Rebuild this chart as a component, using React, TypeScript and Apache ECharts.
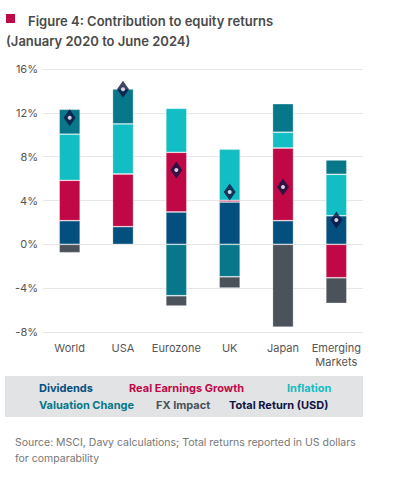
import React, { useEffect, useRef } from "react";
import * as echarts from "echarts";

const categories = ["World", "USA", "Eurozone", "UK", "Japan", "Emerging\nMarkets"];
const dividends = [2.16, 1.61, 2.95, 3.86, 2.16, 2.61];
const realEarningsGrowth = [3.68, 4.81, 5.45, 0.16, 6.63, -3.05];
const inflation = [4.21, 4.57, 4.02, 4.66, 1.44, 3.78];
const valuationChange = [2.28, 3.19, -4.69, -2.96, 2.61, 1.31];
const fxImpact = [-0.77, 0, -0.94, -1.03, -7.55, -2.34];
const totalReturn = [11.56, 14.15, 6.79, 4.78, 5.23, 2.22];

const COLORS = {
  div: "#03507f",
  reg: "#bf0845",
  inf: "#12bdc3",
  vc: "#08778a",
  fx: "#4b525a",
  tot: "#0f1442",
};

const FONT = "Inter, 'Open Sans', sans-serif";

export default function App() {
  const ref = useRef<HTMLDivElement>(null);
  useEffect(() => {
    document.body.style.margin = "0";
    if (!ref.current) return;
    const chart = echarts.init(ref.current, undefined, { renderer: "svg" });
    const barBase = {
      type: "bar" as const,
      stack: "total",
      barWidth: 21,
      itemStyle: { borderColor: "rgba(255,255,255,0.35)", borderWidth: 0.8 },
    };
    chart.setOption({
      animation: false,
      textStyle: { fontFamily: FONT },
      grid: { left: 43, right: 32, top: 69, bottom: 148 },
      xAxis: {
        type: "category",
        data: categories,
        axisLine: { show: false },
        axisTick: { show: false },
        axisLabel: { color: "#555", fontSize: 11, margin: 9, lineHeight: 14, fontFamily: FONT, interval: 0, hideOverlap: false },
      },
      yAxis: {
        type: "value",
        min: -8,
        max: 16,
        interval: 4,
        axisLine: { show: false },
        axisTick: { show: false },
        splitLine: { lineStyle: { color: "#e6e6e6", width: 1 } },
        axisLabel: { color: "#555", fontSize: 11, margin: 5, formatter: "{value}%", fontFamily: FONT },
      },
      series: [
        { ...barBase, name: "Dividends", data: dividends, itemStyle: { ...barBase.itemStyle, color: COLORS.div } },
        { ...barBase, name: "Real Earnings Growth", data: realEarningsGrowth, itemStyle: { ...barBase.itemStyle, color: COLORS.reg } },
        { ...barBase, name: "Inflation", data: inflation, itemStyle: { ...barBase.itemStyle, color: COLORS.inf } },
        { ...barBase, name: "Valuation Change", data: valuationChange, itemStyle: { ...barBase.itemStyle, color: COLORS.vc } },
        { ...barBase, name: "FX Impact", data: fxImpact, itemStyle: { ...barBase.itemStyle, color: COLORS.fx } },
        {
          type: "scatter",
          name: "Total Return (USD)",
          data: totalReturn,
          symbol: "diamond",
          symbolSize: [12, 17],
          itemStyle: { color: COLORS.tot },
          z: 5,
        },
        {
          type: "scatter",
          name: "Total Return dot",
          data: totalReturn,
          symbol: "circle",
          symbolSize: 4,
          itemStyle: { color: "#ffffff" },
          z: 6,
        },
      ],
      graphic: [
        { type: "rect", shape: { x: 6, y: 14, width: 9, height: 9 }, style: { fill: "#c00a48" } },
        {
          type: "text",
          x: 28,
          y: 21,
          style: { text: "Figure 4: Contribution to equity returns", fill: "#4a4a4a", font: `600 13px ${FONT}`, verticalAlign: "middle" },
        },
        {
          type: "text",
          x: 6,
          y: 41,
          style: { text: "(January 2020 to June 2024)", fill: "#4a4a4a", font: `600 13px ${FONT}`, verticalAlign: "middle" },
        },
        { type: "rect", shape: { x: 5, y: 376, width: 358, height: 41 }, style: { fill: "#e2e3e5" } },
        { type: "text", x: 39, y: 388, style: { text: "Dividends", fill: COLORS.div, font: `bold 11px ${FONT}`, verticalAlign: "middle" } },
        { type: "text", x: 129, y: 388, style: { text: "Real Earnings Growth", fill: COLORS.reg, font: `bold 11px ${FONT}`, verticalAlign: "middle" } },
        { type: "text", x: 287, y: 388, style: { text: "Inflation", fill: COLORS.inf, font: `bold 11px ${FONT}`, verticalAlign: "middle" } },
        { type: "text", x: 39, y: 405, style: { text: "Valuation Change", fill: COLORS.vc, font: `bold 11px ${FONT}`, verticalAlign: "middle" } },
        { type: "text", x: 156, y: 405, style: { text: "FX Impact", fill: COLORS.fx, font: `bold 11px ${FONT}`, verticalAlign: "middle" } },
        { type: "text", x: 229, y: 405, style: { text: "Total Return (USD)", fill: COLORS.tot, font: `bold 11px ${FONT}`, verticalAlign: "middle" } },
        {
          type: "text",
          x: 15,
          y: 442,
          style: { text: "Source: MSCI, Davy calculations; Total returns reported in US dollars", fill: "#777", font: `normal 10.5px ${FONT}`, verticalAlign: "middle" },
        },
        {
          type: "text",
          x: 15,
          y: 458,
          style: { text: "for comparability", fill: "#777", font: `normal 10.5px ${FONT}`, verticalAlign: "middle" },
        },
      ],
    });
    return () => chart.dispose();
  }, []);
  return <div ref={ref} style={{ width: 395, height: 480 }} />;
}
